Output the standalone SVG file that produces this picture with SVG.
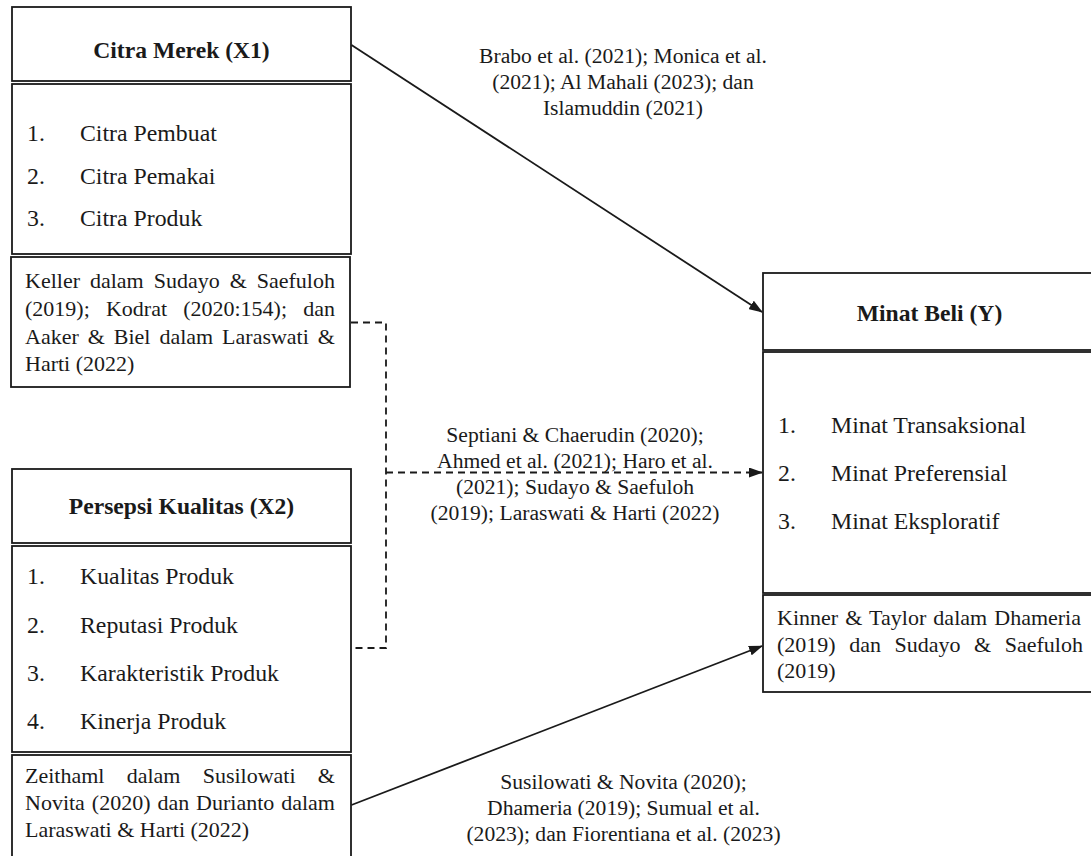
<svg xmlns="http://www.w3.org/2000/svg" width="1091" height="856" viewBox="0 0 1091 856">
<style>
.box{fill:#fff;stroke:#1a1a1a;stroke-width:1.8}
.t{font-family:"Liberation Serif","Times New Roman",serif;fill:#1a1a1a}
.title{font-size:23.6px;font-weight:bold;text-anchor:middle}
.li{font-size:23.8px}
.cit{font-size:22px}
.lab{font-size:21.6px;text-anchor:middle}
.con{fill:none;stroke:#1a1a1a;stroke-width:1.8}
.dash{stroke-dasharray:7 5}
</style>
<defs>
<marker id="ah" markerWidth="14" markerHeight="10" refX="13" refY="5" orient="auto" markerUnits="userSpaceOnUse">
<path d="M0,0 L14,5 L0,10 z" fill="#1a1a1a"/>
</marker>
</defs>
<rect width="1091" height="856" fill="#fff"/>

<g id="citra-merek">
<rect class="box" x="12" y="7" width="339" height="74"/>
<text class="t title" x="181.5" y="58">Citra Merek (X1)</text>
<rect class="box" x="12" y="84" width="339" height="170"/>
<text class="t li" x="27" y="141">1.</text><text class="t li" x="80" y="141">Citra Pembuat</text>
<text class="t li" x="27" y="184">2.</text><text class="t li" x="80" y="184">Citra Pemakai</text>
<text class="t li" x="27" y="226">3.</text><text class="t li" x="80" y="226">Citra Produk</text>
<rect class="box" x="11" y="257" width="339" height="130"/>
<text class="t cit" x="25" y="288" word-spacing="4.48">Keller dalam Sudayo &amp; Saefuloh</text>
<text class="t cit" x="25" y="316" word-spacing="10.66">(2019); Kodrat (2020:154); dan</text>
<text class="t cit" x="25" y="344" word-spacing="3.46">Aaker &amp; Biel dalam Laraswati &amp;</text>
<text class="t cit" x="25" y="371">Harti (2022)</text>
</g>

<g id="persepsi-kualitas">
<rect class="box" x="12" y="469" width="339" height="74"/>
<text class="t title" x="181.5" y="514">Persepsi Kualitas (X2)</text>
<rect class="box" x="12" y="546" width="339" height="206"/>
<text class="t li" x="27" y="584">1.</text><text class="t li" x="80" y="584">Kualitas Produk</text>
<text class="t li" x="27" y="633">2.</text><text class="t li" x="80" y="633">Reputasi Produk</text>
<text class="t li" x="27" y="681">3.</text><text class="t li" x="80" y="681">Karakteristik  Produk</text>
<text class="t li" x="27" y="729">4.</text><text class="t li" x="80" y="729">Kinerja Produk</text>
<rect class="box" x="12" y="755" width="339" height="110"/>
<text class="t cit" x="25" y="783" word-spacing="16.75">Zeithaml dalam Susilowati &amp;</text>
<text class="t cit" x="25" y="810" word-spacing="1.43">Novita (2020) dan Durianto dalam</text>
<text class="t cit" x="25" y="837">Laraswati &amp; Harti (2022)</text>
</g>

<g id="minat-beli">
<rect class="box" x="763" y="273" width="340" height="77"/>
<text class="t title" x="929.5" y="321">Minat Beli (Y)</text>
<rect class="box" x="763" y="352" width="340" height="241"/>
<text class="t li" x="778" y="433">1.</text><text class="t li" x="831" y="433">Minat Transaksional</text>
<text class="t li" x="778" y="481">2.</text><text class="t li" x="831" y="481">Minat Preferensial</text>
<text class="t li" x="778" y="529">3.</text><text class="t li" x="831" y="529">Minat Eksploratif</text>
<rect class="box" x="763" y="595" width="340" height="97"/>
<text class="t cit" x="777" y="625" word-spacing="1.65">Kinner &amp; Taylor dalam Dhameria</text>
<text class="t cit" x="777" y="652" word-spacing="8.06">(2019) dan Sudayo &amp; Saefuloh</text>
<text class="t cit" x="777" y="678">(2019)</text>
</g>

<g id="connectors">
<line class="con" x1="351.5" y1="45" x2="762" y2="312" marker-end="url(#ah)"/>
<polyline class="con dash" points="351,322.5 386,322.5 386,648 352,648"/>
<line class="con dash" x1="386" y1="472.5" x2="762" y2="472.5" marker-end="url(#ah)"/>
<line class="con" x1="351.5" y1="805" x2="762" y2="646" marker-end="url(#ah)"/>
</g>

<g id="labels">
<text class="t lab" x="623" y="63">Brabo et al. (2021); Monica et al.</text>
<text class="t lab" x="623" y="89">(2021); Al Mahali (2023); dan</text>
<text class="t lab" x="623" y="115">Islamuddin (2021)</text>
<text class="t lab" x="575" y="442">Septiani &amp; Chaerudin (2020);</text>
<text class="t lab" x="575" y="468">Ahmed et al. (2021); Haro et al.</text>
<text class="t lab" x="575" y="494">(2021); Sudayo &amp; Saefuloh</text>
<text class="t lab" x="575" y="520">(2019); Laraswati &amp; Harti (2022)</text>
<text class="t lab" x="623.5" y="789">Susilowati &amp; Novita (2020);</text>
<text class="t lab" x="623.5" y="815">Dhameria (2019); Sumual et al.</text>
<text class="t lab" x="623.5" y="841">(2023); dan Fiorentiana et al. (2023)</text>
</g>
</svg>
